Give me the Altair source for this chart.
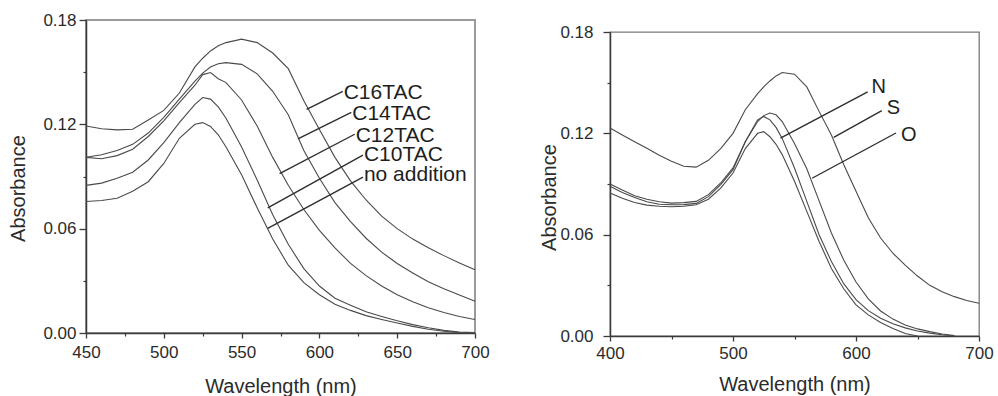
import altair as alt
import pandas as pd

FONT = "Liberation Sans"
INK = "#2b2b2b"
CURVE = "#4a4a4a"

# ---------------- left panel: CnTAC series ----------------
wl_left = [450, 460, 470, 480, 490, 500, 510, 520, 525, 530, 535, 540, 550, 560,
           570, 580, 590, 600, 610, 620, 630, 640, 650, 660, 670, 680, 690, 700]
c16tac = [0.1190, 0.1175, 0.1168, 0.1172, 0.1225, 0.1280, 0.1380, 0.1530, 0.1580, 0.1622,
          0.1652, 0.1670, 0.1690, 0.1670, 0.1610, 0.1520, 0.1335, 0.1170, 0.1010, 0.0875,
          0.0765, 0.0672, 0.0600, 0.0540, 0.0490, 0.0445, 0.0402, 0.0364]
c14tac = [0.1011, 0.1025, 0.1050, 0.1085, 0.1150, 0.1240, 0.1345, 0.1448, 0.1495, 0.1530,
          0.1548, 0.1555, 0.1545, 0.1490, 0.1390, 0.1255, 0.1050, 0.0890, 0.0750, 0.0640,
          0.0545, 0.0465, 0.0400, 0.0345, 0.0295, 0.0255, 0.0218, 0.0183]
c12tac = [0.1010, 0.1002, 0.1020, 0.1057, 0.1130, 0.1220, 0.1325, 0.1425, 0.1486, 0.1498,
          0.1462, 0.1440, 0.1340, 0.1190, 0.1010, 0.0850, 0.0710, 0.0590, 0.0490, 0.0400,
          0.0330, 0.0270, 0.0220, 0.0180, 0.0145, 0.0118, 0.0095, 0.0078]
c10tac = [0.0849, 0.0862, 0.0890, 0.0925, 0.0995, 0.1095, 0.1210, 0.1315, 0.1354, 0.1345,
          0.1300, 0.1235, 0.1070, 0.0880, 0.0680, 0.0510, 0.0370, 0.0270, 0.0200, 0.0160,
          0.0122, 0.0095, 0.0070, 0.0048, 0.0030, 0.0015, 0.0005, 0.0002]
no_addition = [0.0756, 0.0762, 0.0775, 0.0815, 0.0870, 0.0975, 0.1120, 0.1200, 0.1210, 0.1188,
               0.1140, 0.1070, 0.0910, 0.0720, 0.0540, 0.0390, 0.0290, 0.0220, 0.0165, 0.0130,
               0.0100, 0.0078, 0.0058, 0.0038, 0.0022, 0.0010, 0.0002, 0.0000]

left_labels = ["C16TAC", "C14TAC", "C12TAC", "C10TAC", "no addition"]
# leader line: curve end (x1, y1) -> label end (x2, y2)
left_x1 = [591.8, 586.2, 574.4, 566.8, 566.8]
left_y1 = [0.1286, 0.1116, 0.0916, 0.0720, 0.0602]
left_x2 = [615.0, 620.5, 622.7, 628.0, 628.0]
left_y2 = [0.1389, 0.1269, 0.1143, 0.1023, 0.0897]
left_ty = [0.1383, 0.1259, 0.1135, 0.1021, 0.0909]

# ---------------- right panel: N / S / O series ----------------
wl_right = [400, 410, 420, 430, 440, 450, 460, 470, 480, 490, 500, 510, 520, 525, 530, 535,
            540, 550, 560, 570, 580, 590, 600, 610, 620, 630, 640, 650, 660, 670, 680, 690, 700]
s_series = [0.1232, 0.1190, 0.1150, 0.1112, 0.1070, 0.1035, 0.1005, 0.1000, 0.1040, 0.1110,
            0.1200, 0.1340, 0.1435, 0.1475, 0.1510, 0.1540, 0.1560, 0.1550, 0.1475, 0.1330,
            0.1190, 0.1015, 0.0857, 0.0700, 0.0580, 0.0490, 0.0420, 0.0355, 0.0300, 0.0262,
            0.0233, 0.0210, 0.0194]
o_series = [0.0900, 0.0865, 0.0830, 0.0810, 0.0795, 0.0787, 0.0790, 0.0797, 0.0837, 0.0906,
            0.0995, 0.1150, 0.1270, 0.1305, 0.1320, 0.1310, 0.1270, 0.1140, 0.0990, 0.0800,
            0.0610, 0.0450, 0.0320, 0.0220, 0.0148, 0.0100, 0.0065, 0.0042, 0.0026, 0.0012,
            0.0002, None, None]
n_series = [0.0886, 0.0850, 0.0820, 0.0795, 0.0780, 0.0777, 0.0778, 0.0785, 0.0825, 0.0896,
            0.0985, 0.1150, 0.1280, 0.1300, 0.1280, 0.1235, 0.1170, 0.0995, 0.0797, 0.0600,
            0.0441, 0.0310, 0.0215, 0.0150, 0.0105, 0.0072, 0.0048, 0.0030, 0.0017, 0.0007,
            0.0000, None, None]
blank_series = [0.0847, 0.0815, 0.0790, 0.0775, 0.0768, 0.0765, 0.0768, 0.0777, 0.0810, 0.0876,
                0.0965, 0.1110, 0.1200, 0.1210, 0.1180, 0.1135, 0.1074, 0.0916, 0.0738, 0.0560,
                0.0400, 0.0280, 0.0184, 0.0125, 0.0080, 0.0045, 0.0015, 0.0000, None, None,
                None, None, None]

right_labels = ["N", "S", "O"]
right_x1 = [538.6, 581.9, 564.3]
right_y1 = [0.1172, 0.1176, 0.0934]
right_x2 = [609.5, 621.0, 632.5]
right_y2 = [0.1445, 0.1335, 0.1202]
right_tx = [612.5, 625.0, 636.5]
right_ty = [0.1476, 0.1351, 0.1188]

y_major = [0.0, 0.06, 0.12, 0.18]
y_minor = [0.03, 0.09, 0.15]


def long_table(wl, series):
    rows = []
    for name, vals in series.items():
        for w, v in zip(wl, vals):
            rows.append({"wl": w, "absorbance": v, "series": name})
    return pd.DataFrame(rows)


def panel(df, labels, x1, y1, x2, y2, tx, ty, xdom, x_major, x_minor, w, h,
          label_size, ylab_pad, xlab_pad, ytitle_x, ytitle_y, xtitle_y, view):
    xs = alt.Scale(domain=xdom, nice=False, zero=False)
    ys = alt.Scale(domain=[0, 0.18], nice=False, zero=False)
    common = dict(labelFont=FONT, labelFontSize=17, labelColor=INK, labelFlush=False,
                  labelOverlap=False,
                  titleFont=FONT, titleFontSize=20, titleColor=INK,
                  titleFontWeight="normal", domainColor="#3a3a3a", domainWidth=1.5,
                  tickColor="#3a3a3a", tickWidth=1.3, grid=False)

    curves = alt.Chart(df).mark_line(color=CURVE, strokeWidth=1.1).encode(
        x=alt.X("wl:Q", scale=xs, axis=alt.Axis(
            values=x_major, format="d", orient="bottom", tickSize=5,
            labelPadding=xlab_pad, title="Wavelength (nm)", titleY=xtitle_y, **common)),
        y=alt.Y("absorbance:Q", scale=ys, axis=alt.Axis(
            values=y_major, format=".2f", orient="left", tickSize=7,
            labelPadding=ylab_pad, title="Absorbance", titleX=ytitle_x, titleY=ytitle_y,
            **common)),
        detail="series:N",
    )

    # minor ticks on both axes
    minor_x = alt.Chart(pd.DataFrame({"mx": x_minor})).mark_point(opacity=0).encode(
        x=alt.X("mx:Q", scale=xs, axis=alt.Axis(
            values=x_minor, labels=False, domain=False, orient="bottom", tickSize=3,
            tickColor="#3a3a3a", tickWidth=1.2, title=None, grid=False)),
    )
    minor_y = alt.Chart(pd.DataFrame({"my": y_minor})).mark_point(opacity=0).encode(
        y=alt.Y("my:Q", scale=ys, axis=alt.Axis(
            values=y_minor, labels=False, domain=False, orient="left", tickSize=3,
            tickColor="#3a3a3a", tickWidth=1.2, title=None, grid=False)),
    )

    lab = pd.DataFrame({"label": labels, "x1": x1, "y1": y1, "x2": x2, "y2": y2,
                        "tx": tx, "ty": ty})
    leaders = alt.Chart(lab).mark_rule(color="#2e2e2e", strokeWidth=1.4).encode(
        x=alt.X("x1:Q", scale=xs, axis=None),
        y=alt.Y("y1:Q", scale=ys, axis=None),
        x2="x2:Q", y2="y2:Q",
    )
    texts = alt.Chart(lab).mark_text(
        align="left", baseline="middle", font=FONT, fontSize=label_size, color="#1e1e1e"
    ).encode(
        x=alt.X("tx:Q", scale=xs, axis=None),
        y=alt.Y("ty:Q", scale=ys, axis=None),
        text="label:N",
    )
    return alt.layer(curves, minor_x, minor_y, leaders, texts).resolve_axis(
        x="independent", y="independent").properties(width=w, height=h, view=view)


left_df = long_table(wl_left, {
    "C16TAC": c16tac, "C14TAC": c14tac, "C12TAC": c12tac,
    "C10TAC": c10tac, "no addition": no_addition})
left_tx = [x + 0.6 for x in left_x2]

right_df = long_table(wl_right, {
    "S": s_series, "O": o_series, "N": n_series, "blank": blank_series})

left = panel(left_df, left_labels, left_x1, left_y1, left_x2, left_y2, left_tx, left_ty,
             [450, 700], [450, 500, 550, 600, 650, 700], [475, 525, 575, 625, 675],
             389, 313, 21, 3, 6, -58, 168, 43,
             alt.ViewBackground(stroke="#9a9a9a", strokeWidth=2))

right = panel(right_df, right_labels, right_x1, right_y1, right_x2, right_y2,
              right_tx, right_ty, [400, 700], [400, 500, 600, 700], [450, 550, 650],
              369, 304, 20, 10, 4, -51, 165, 38,
              alt.ViewBackground(stroke="#7a7a7a", strokeWidth=1.3))

# thin empty strip that sets the right panel a little lower than the left one
strip = alt.Chart(pd.DataFrame({"v": [0]})).mark_rule(opacity=0, strokeWidth=0).encode(
    x=alt.value(0), x2=alt.value(1), y=alt.value(0)
).properties(width=369, height=2, view=alt.ViewBackground(strokeOpacity=0))

right_col = alt.vconcat(strip, right, spacing=0)

chart = alt.hconcat(left, right_col, spacing=47).properties(
    padding={"left": 7, "top": 10, "right": 0, "bottom": 0},
    background="white",
)

chart.save("out.html", embed_options={"renderer": "svg", "actions": False})
